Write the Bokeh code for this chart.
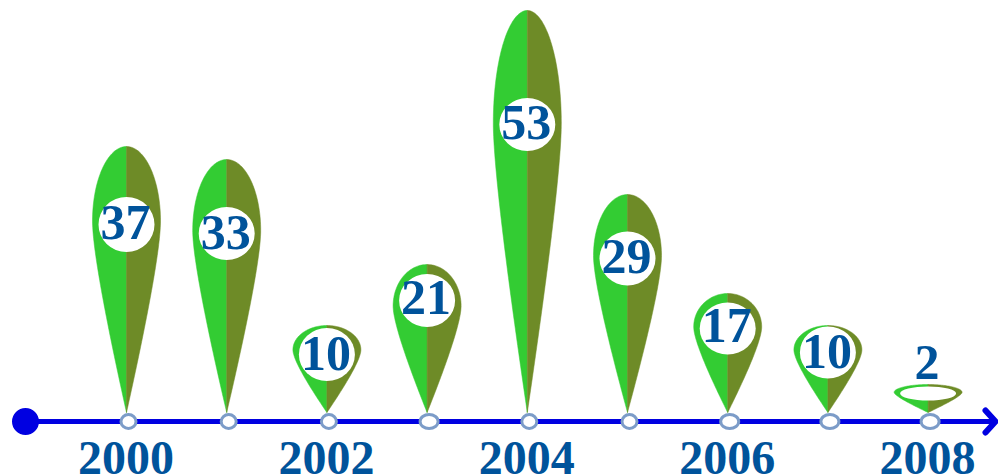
import numpy as np
from bokeh.plotting import figure
from bokeh.models import Range1d
from bokeh.core.properties import value
from bokeh.embed import file_html
from bokeh.resources import INLINE

years = [2000, 2001, 2002, 2003, 2004, 2005, 2006, 2007, 2008]
counts = [37, 33, 10, 21, 53, 29, 17, 10, 2]
pin_tops = [275, 262, 96, 157, 411, 227, 128, 96, 37]
hole_centers = [197, 188, 67, 121, 297, 163, 93, 69, 28]
hole_heights = [55, 53, 53, 53, 53, 54, 52, 52, 14]
label_centers = [199, 189, 68, 124, 299, 165, 96, 70, 59]
node_widths = [15, 15, 15, 18, 15, 15, 18, 18, 18]
year_labels = ["2000", "2002", "2004", "2006", "2008"]

GREEN, OLIVE, BLUE, TEXT, RING = "#33CC33", "#6E8B27", "#0000E1", "#00539B", "#7C9CC8"
PX = 100.2                    # screen pixels per year
X0 = 2000 - 128 / PX
W, H = 998, 476

p = figure(width=W, height=H, output_backend="svg", toolbar_location=None,
           x_range=Range1d(X0, X0 + W / PX), y_range=Range1d(-55, 421),
           min_border=0, outline_line_color=None)
p.axis.visible = False
p.grid.visible = False
p.background_fill_color = "white"
p.border_fill_color = "white"

# time line
p.line([X0 + 25 / PX, X0 + 993 / PX], [0, 0], line_color=BLUE, line_width=5)
p.scatter([X0 + 25 / PX], [0], size=27, marker="circle", fill_color=BLUE, line_color=BLUE, line_width=0)
p.line([X0 + 985 / PX, X0 + 995 / PX, X0 + 985 / PX], [11, 0, -11], line_color=BLUE,
       line_width=6, line_cap="round", line_join="round")


def half(center, top, sign, half_w=34 / PX, tip=9):
    wide = top - 0.28 * (top - tip)
    t = np.linspace(0, np.pi / 2, 40)
    xs_top = half_w * np.cos(t)
    ys_top = wide + (top - wide) * np.sin(t)
    u = np.linspace(0, 1, 40)
    ctrl_y = wide - 0.2 * (wide - tip)
    xs_low = (1 - u) ** 2 * half_w + 2 * u * (1 - u) * half_w
    ys_low = (1 - u) ** 2 * wide + 2 * u * (1 - u) * ctrl_y + u ** 2 * tip
    xs = np.concatenate([[0], xs_top[::-1], xs_low]) * sign + center
    ys = np.concatenate([[top], ys_top[::-1], ys_low])
    return list(xs), list(ys)


left = [half(y - 2 / PX, t, -1) for y, t in zip(years, pin_tops)]
right = [half(y - 2 / PX, t, 1) for y, t in zip(years, pin_tops)]
p.patches([a[0] for a in left], [a[1] for a in left], fill_color=GREEN, line_color=GREEN, line_width=0.5)
p.patches([a[0] for a in right], [a[1] for a in right], fill_color=OLIVE, line_color=OLIVE, line_width=0.5)

# white holes in the pins
p.ellipse([y - 2 / PX for y in years], hole_centers, width=[56 / PX] * len(years), height=hole_heights,
          fill_color="white", line_color=None)

# year nodes
p.ellipse(years, [0] * len(years), width=[w / PX for w in node_widths], height=[14] * len(years),
          fill_color="white", line_color=RING, line_width=3)

p.text([y - 3 / PX for y in years], label_centers, text=[str(c) for c in counts],
       text_font=value("Liberation Serif"), text_font_style="bold", text_font_size="50px",
       text_color=TEXT, text_align="center", text_baseline="middle")
p.text([int(s) - 2.5 / PX for s in year_labels], [-36] * len(year_labels), text=year_labels,
       text_font=value("Liberation Serif"), text_font_style="bold", text_font_size="48px",
       text_color=TEXT, text_align="center", text_baseline="middle")

open("out.html", "w").write(file_html(p, INLINE))
